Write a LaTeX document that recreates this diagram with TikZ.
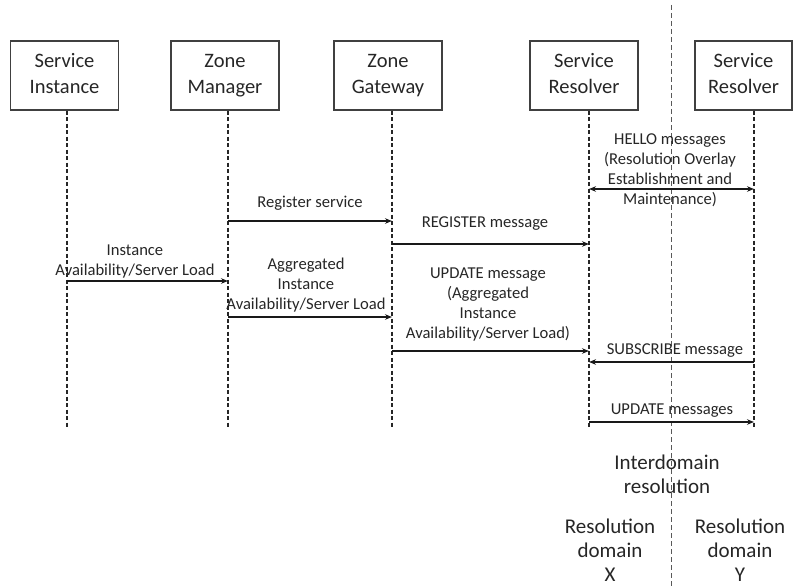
\documentclass[tikz,border=0pt]{standalone}
\usepackage{fontspec}
\setmainfont{Carlito}
\usetikzlibrary{arrows.meta}
\begin{document}
\begin{tikzpicture}[x=1pt,y=-1pt,
  actor/.style={draw=black!75,line width=1.1pt,minimum width=108pt,minimum height=69pt,align=center,font=\fontsize{20.5}{26}\selectfont,inner sep=0pt,text=black!85},
  life/.style={line width=1.6pt,dash pattern=on 4pt off 2.5pt,black!85},
  msg/.style={line width=1.6pt,-{Stealth[length=7pt,width=5.5pt]},black!90},
  dmsg/.style={line width=1.6pt,{Stealth[length=7pt,width=5.5pt]}-{Stealth[length=7pt,width=5.5pt]},black!90},
  domline/.style={line width=1pt,dash pattern=on 5pt off 3pt,black!65},
  lbl/.style={align=center,font=\fontsize{16.6}{20}\selectfont,inner sep=0pt,text=black!85},
  big/.style={align=center,font=\fontsize{21}{24}\selectfont,inner sep=0pt,text=black!85}]
\useasboundingbox (0,0) rectangle (793,586);
% domain separator
\coordinate (dtop) at (671,5);
\coordinate (dbot) at (671,586);
\draw[domline] (dtop) -- (dbot);
% actors
\node[actor] (si) at (64.5,75.5) {\strut Service\\\strut Instance};
\node[actor] (zm) at (225,75.5) {\strut Zone\\\strut Manager};
\node[actor] (zg) at (388,75.5) {\strut Zone\\\strut Gateway};
\node[actor] (srx) at (584,75.5) {\strut Service\\\strut Resolver};
\node[actor,minimum width=97pt] (sry) at (743.5,75.5) {\strut Service\\\strut Resolver};
% lifeline ends
\coordinate (e1) at (67,428);
\coordinate (e2) at (228,428);
\coordinate (e3) at (392,428);
\coordinate (e4) at (589,428);
\coordinate (e5) at (754,428);
\draw[life] (si.south -| e1) -- (e1);
\draw[life] (zm.south -| e2) -- (e2);
\draw[life] (zg.south -| e3) -- (e3);
\draw[life] (srx.south -| e4) -- (e4);
\draw[life] (sry.south -| e5) -- (e5);
% messages
\draw[dmsg] (e4 |- 0,189) -- (e5 |- 0,189);
\node[lbl] (lhello) at (670,170) {HELLO messages\\(Resolution Overlay\\Establishment and\\Maintenance)};
\draw[msg] (e2 |- 0,221) -- (e3 |- 0,221);
\node[lbl] (lreg) at (310,203) {Register service};
\draw[msg] (e3 |- 0,244) -- (e4 |- 0,244);
\node[lbl] (lregm) at (485,224) {REGISTER message};
\draw[msg] (e1 |- 0,281) -- (e2 |- 0,281);
\node[lbl] (linst) at (135,262) {Instance\\Availability/Server Load};
\draw[msg] (e2 |- 0,317) -- (e3 |- 0,317);
\node[lbl] (lagg) at (306,285) {Aggregated\\Instance\\Availability/Server Load};
\draw[msg] (e3 |- 0,351) -- (e4 |- 0,351);
\node[lbl] (lupd) at (488,305) {UPDATE message\\(Aggregated\\Instance\\Availability/Server Load)};
\draw[msg] (e5 |- 0,362) -- (e4 |- 0,362);
\node[lbl] (lsub) at (675,351) {SUBSCRIBE message};
\draw[msg] (e4 |- 0,422) -- (e5 |- 0,422);
\node[lbl] (lupds) at (672,411) {UPDATE messages};
% bottom labels
\node[big] (inter) at (667,474) {Interdomain\\resolution};
\node[big] (domx) at (610,550) {Resolution\\domain\\X};
\node[big] (domy) at (740,550) {Resolution\\domain\\Y};
\end{tikzpicture}
\end{document}
